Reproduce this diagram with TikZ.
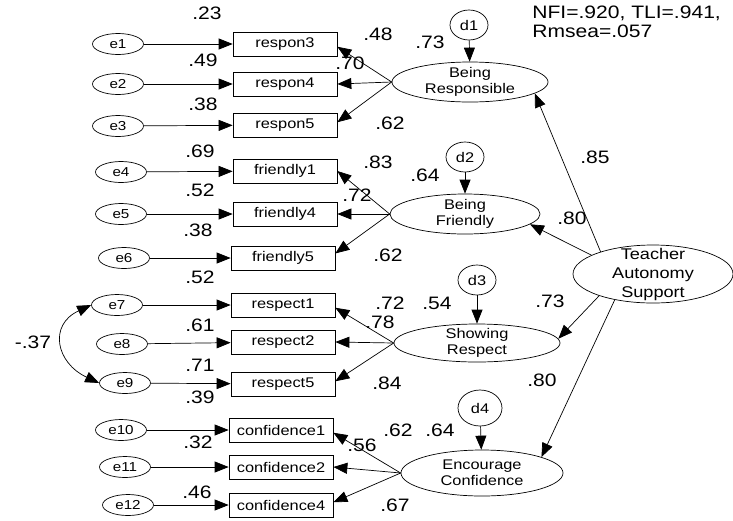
\documentclass[tikz,border=0pt]{standalone}
\usepackage{fontspec}
\setmainfont[FakeStretch=1.17]{Liberation Sans}
\usetikzlibrary{shapes.geometric,arrows.meta}

\begin{document}
\begin{tikzpicture}[x=1pt, y=-1pt, line width=0.7pt,
    error/.style={ellipse, draw, minimum width=51pt, minimum height=21pt, inner sep=0pt, font=\fontsize{13}{15}\selectfont},
    item/.style={rectangle, draw, minimum width=104pt, minimum height=24pt, inner sep=0pt, font=\fontsize{14}{16}\selectfont},
    factor/.style={ellipse, draw, inner sep=-8pt, align=center, font=\fontsize{14}{16}\selectfont},
    resid/.style={ellipse, draw, minimum width=38pt, minimum height=30pt, inner sep=0pt, font=\fontsize{14}{16}\selectfont},
    coef/.style={inner sep=0pt, font=\fontsize{18}{20}\selectfont},
    load/.style={-{Triangle[length=14pt,width=11pt]}}
]
\useasboundingbox (0,0) rectangle (733,520);

\node [error] (e1) at (118,44) {e1};
\node [error] (e2) at (118,84) {e2};
\node [error] (e3) at (118,126) {e3};
\node [error] (e4) at (121,172) {e4};
\node [error] (e5) at (121,214) {e5};
\node [error] (e6) at (124,258) {e6};
\node [error] (e7) at (117,305) {e7};
\node [error] (e8) at (122,344) {e8};
\node [error] (e9) at (125,383) {e9};
\node [error] (e10) at (121,430) {e10};
\node [error] (e11) at (125,467) {e11};
\node [error] (e12) at (128,505) {e12};

\node [item] (respon3) at (285,44) {respon3};
\node [item] (respon4) at (285,84) {respon4};
\node [item] (respon5) at (285,125) {respon5};
\node [item] (friendly1) at (285,171) {friendly1};
\node [item] (friendly4) at (285,214) {friendly4};
\node [item] (friendly5) at (283,258) {friendly5};
\node [item] (respect1) at (283,305) {respect1};
\node [item] (respect2) at (283,342) {respect2};
\node [item] (respect5) at (283,384) {respect5};
\node [item] (confidence1) at (281,430) {confidence1};
\node [item] (confidence2) at (281,467) {confidence2};
\node [item] (confidence4) at (281,505) {confidence4};

\node [factor, minimum width=156pt, minimum height=40pt] (resp) at (470,82) {Being\\Responsible};
\node [factor, minimum width=150pt, minimum height=40pt] (friend) at (465,214) {Being\\Friendly};
\node [factor, minimum width=166pt, minimum height=38pt] (respect) at (477,343) {Showing\\Respect};
\node [factor, minimum width=162pt, minimum height=46pt] (conf) at (482,473) {Encourage\\Confidence};
\node [factor, minimum width=160pt, minimum height=58pt, font=\fontsize{15.5}{19}\selectfont] (tas) at (653,274) {Teacher\\Autonomy\\Support};

\node [resid] (d1) at (469,25) {d1};
\node [resid] (d2) at (465,157) {d2};
\node [resid] (d3) at (477,280) {d3};
\node [resid, minimum width=44pt, minimum height=36pt] (d4) at (480,408) {d4};

\draw [load] (e1) -- (respon3);
\draw [load] (e2) -- (respon4);
\draw [load] (e3) -- (respon5);
\draw [load] (e4) -- (friendly1);
\draw [load] (e5) -- (friendly4);
\draw [load] (e6) -- (friendly5);
\draw [load] (e7) -- (respect1);
\draw [load] (e8) -- (respect2);
\draw [load] (e9) -- (respect5);
\draw [load] (e10) -- (confidence1);
\draw [load] (e11) -- (confidence2);
\draw [load] (e12) -- (confidence4);

\draw [load] (resp.west) -- (respon3.-3);
\draw [load] (resp.west) -- (respon4.east);
\draw [load] (resp.west) -- (respon5.3);
\draw [load] (friend.west) -- (friendly1.east);
\draw [load] (friend.west) -- (friendly4.east);
\draw [load] (friend.west) -- (friendly5.5);
\draw [load] (respect.west) -- (respect1.-3);
\draw [load] (respect.west) -- (respect2.east);
\draw [load] (respect.west) -- (respect5.3);
\draw [load] (conf.west) -- (confidence1.-3);
\draw [load] (conf.west) -- (confidence2.east);
\draw [load] (conf.west) -- (confidence4.3);

\draw [load] (d1) -- (resp);
\draw [load] (d2) -- (friend);
\draw [load] (d3) -- (respect);
\draw [load] (d4) -- (conf);

\draw [load] (tas.157) -- (resp.-10);
\draw [load] (tas.163) -- (friend.-9);
\draw [load] (tas.202) -- (respect.3);
\draw [load] (tas.214) -- (conf.15);

\draw [{Triangle[length=14pt,width=11pt]}-{Triangle[length=14pt,width=11pt]}]
    (e7.west) .. controls +(-43,20) and +(-43,-20) .. (e9.west);
\node [coef] (cov79) at (33,342) {-.37};

\node [coef] (sqrespon3) at (207,13) {.23};
\node [coef] (sqrespon4) at (203,60) {.49};
\node [coef] (sqrespon5) at (203,104) {.38};
\node [coef] (sqfriendly1) at (200,151) {.69};
\node [coef] (sqfriendly4) at (200,190) {.52};
\node [coef] (sqfriendly5) at (198,230) {.38};
\node [coef] (sqrespect1) at (200,277) {.52};
\node [coef] (sqrespect2) at (200,325) {.61};
\node [coef] (sqrespect5) at (200,365) {.71};
\node [coef] (sqconfidence1) at (200,397) {.39};
\node [coef] (sqconfidence2) at (198,442) {.32};
\node [coef] (sqconfidence4) at (197,492) {.46};

\node [coef] (ldrespon3) at (378,34) {.48};
\node [coef] (ldrespon4) at (350,63) {.70};
\node [coef] (ldrespon5) at (390,123) {.62};
\node [coef] (ldfriendly1) at (378,162) {.83};
\node [coef] (ldfriendly4) at (357,195) {.72};
\node [coef] (ldfriendly5) at (388,255) {.62};
\node [coef] (ldrespect1) at (390,303) {.72};
\node [coef] (ldrespect2) at (380,322) {.78};
\node [coef] (ldrespect5) at (387,383) {.84};
\node [coef] (ldconfidence1) at (398,430) {.62};
\node [coef] (ldconfidence2) at (362,445) {.56};
\node [coef] (ldconfidence4) at (395,505) {.67};

\node [coef] (sqresp) at (430,42) {.73};
\node [coef] (sqfriend) at (425,175) {.64};
\node [coef] (sqrespect) at (437,303) {.54};
\node [coef] (sqconf) at (440,430) {.64};

\node [coef] (pathresp) at (595,157) {.85};
\node [coef] (pathfriend) at (572,218) {.80};
\node [coef] (pathrespect) at (550,301) {.73};
\node [coef] (pathconf) at (542,380) {.80};

\node [coef, anchor=north west, align=left, font=\fontsize{18}{19}\selectfont] (fit) at (532,6) {NFI=.920, TLI=.941,\\Rmsea=.057};

\end{tikzpicture}
\end{document}
